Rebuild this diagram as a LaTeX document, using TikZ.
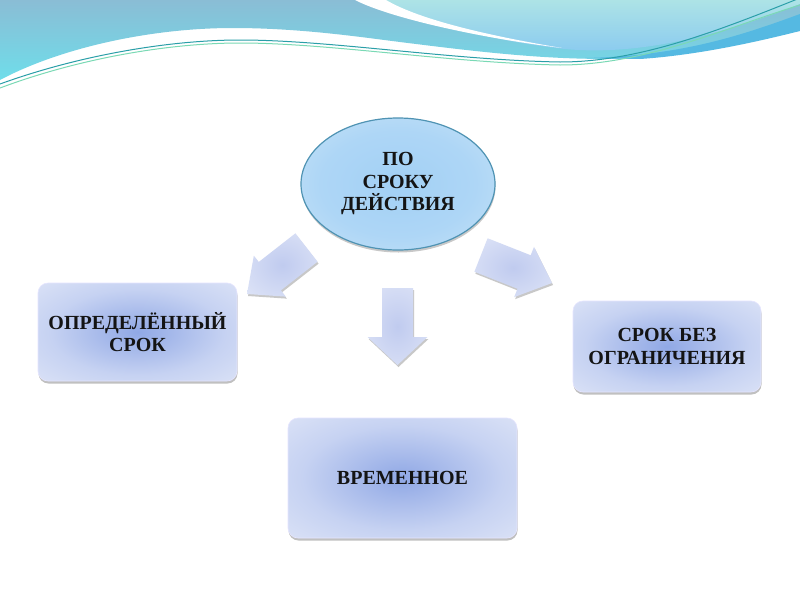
\documentclass[tikz,border=0pt]{standalone}
\usepackage{fontspec}
\setmainfont{Liberation Serif}
\usetikzlibrary{shapes.geometric,shadows,calc}
\definecolor{bandtop}{HTML}{8ABDD5}
\definecolor{bandbot}{HTML}{6FDDEA}
\definecolor{paletop}{HTML}{ADE3E6}
\definecolor{palebot}{HTML}{88C9F0}
\definecolor{wedge}{HTML}{55B9E2}
\definecolor{lineteal}{HTML}{2A9FA8}
\definecolor{linegreen}{HTML}{7AD9B5}
\definecolor{ellin}{HTML}{A2D0F5}
\definecolor{ellout}{HTML}{DDEEF9}
\definecolor{ellborder}{HTML}{4F93B3}
\definecolor{boxin}{HTML}{90A8E5}
\definecolor{boxmid}{HTML}{C6D2F2}
\definecolor{boxout}{HTML}{EEF1FA}
\definecolor{arrin}{HTML}{C0CBEF}
\definecolor{arrout}{HTML}{EAEEFA}
\definecolor{txt}{HTML}{141414}
\pgfdeclareradialshading{boxshade}{\pgfpoint{0bp}{0bp}}{color(0bp)=(boxin); color(22bp)=(boxmid); color(50bp)=(boxout); color(75bp)=(boxout)}
\pgfdeclareradialshading{ellshade}{\pgfpoint{0bp}{0bp}}{color(0bp)=(ellin); color(20bp)=(ellin!80!ellout); color(50bp)=(ellout); color(75bp)=(ellout)}
\pgfdeclareradialshading{arrshade}{\pgfpoint{0bp}{0bp}}{color(0bp)=(arrin); color(50bp)=(arrout); color(75bp)=(arrout)}
\newcommand\blockarrow[5]{%
  \coordinate (#1h) at ($(#2)!#5!(#1)$);
  \path[arrowbody]
    ($(#1)!#3!90:(#2)$) -- ($(#1h)!#3!-90:(#1)$) -- ($(#1h)!#4!-90:(#1)$) --
    (#2) -- ($(#1h)!#4!90:(#1)$) -- ($(#1h)!#3!90:(#1)$) --
    ($(#1)!#3!-90:(#2)$) -- cycle;
}
\begin{document}
\begin{tikzpicture}[x=1pt,y=-1pt,
  lbl/.style={font=\fontsize{20}{22.5}\selectfont\bfseries, text=txt, align=center},
  card/.style={lbl, rounded corners=10pt, shade, shading=boxshade,
    draw=white!90!blue, line width=0.6pt,
    drop shadow={shadow xshift=0.5pt, shadow yshift=-2.5pt, opacity=0.35, fill=black!70}},
  oval/.style={lbl, ellipse, inner sep=0pt, shade, shading=ellshade,
    draw=ellborder, line width=1.2pt,
    drop shadow={shadow xshift=0.5pt, shadow yshift=-2.5pt, opacity=0.3, fill=black!70}},
  arrowbody/.style={shade, shading=arrshade,
    drop shadow={shadow xshift=1pt, shadow yshift=-2pt, opacity=0.3, fill=black!70}}
]
\useasboundingbox (0,0) rectangle (800,600);
\fill[white] (0,0) rectangle (800,600);
% header
\shade[top color=bandtop, bottom color=bandbot]
  (0,80) .. controls (60,48) and (150,28) .. (233,28)
  .. controls (300,28) and (360,37) .. (400,42)
  .. controls (480,52) and (560,62) .. (640,58)
  .. controls (700,54) and (760,40) .. (800,30) -- (800,0) -- (0,0) -- cycle;
\shade[top color=paletop, bottom color=palebot]
  (370,0) .. controls (430,25) and (500,42) .. (565,49)
  .. controls (640,56) and (720,35) .. (800,4) -- (800,0) -- cycle;
\fill[white]
  (355,0) .. controls (390,18) and (480,38) .. (562,48)
  .. controls (490,36) and (420,20) .. (386,0) -- cycle;
\fill[wedge]
  (585,58) .. controls (680,56) and (740,36) .. (800,14) -- (800,31)
  .. controls (760,41) and (700,55) .. (640,59) -- cycle;
\draw[lineteal, line width=1pt]
  (0,84) .. controls (80,55) and (170,40) .. (240,40)
  .. controls (330,40) and (450,60) .. (560,62)
  .. controls (640,62) and (720,30) .. (800,-2);
\draw[linegreen, line width=1pt]
  (0,88) .. controls (80,58) and (170,43) .. (240,43)
  .. controls (330,43) and (450,63) .. (560,65)
  .. controls (645,65) and (725,28) .. (800,5);
% arrows
\coordinate (da) at (397.5,288);
\coordinate (db) at (397.5,365);
\coordinate (la) at (306.5,247.5);
\coordinate (lb) at (247,294);
\coordinate (ra) at (481,255);
\coordinate (rb) at (552,283);
\blockarrow{da}{db}{15.5pt}{30pt}{28pt}
\blockarrow{la}{lb}{18pt}{26pt}{29pt}
\blockarrow{ra}{rb}{18pt}{27pt}{30pt}
% nodes
\node[oval, minimum width=194pt, minimum height=132pt] (root) at (398,184) {ПО\\СРОКУ\\ДЕЙСТВИЯ};
\node[card, minimum width=199pt, minimum height=98pt] (def) at (137.5,332) {ОПРЕДЕЛЁННЫЙ\\СРОК};
\node[card, minimum width=188pt, minimum height=91pt] (unl) at (667,346.5) {СРОК БЕЗ\\ОГРАНИЧЕНИЯ};
\node[card, minimum width=229pt, minimum height=120pt] (tmp) at (402.5,478) {ВРЕМЕННОЕ};
\end{tikzpicture}
\end{document}
